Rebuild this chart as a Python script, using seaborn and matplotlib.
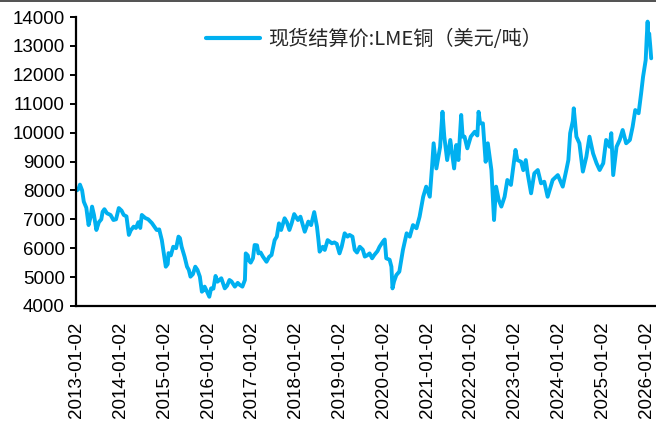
import matplotlib
matplotlib.use("Agg")
import matplotlib.pyplot as plt
import matplotlib.dates as mdates
from matplotlib.lines import Line2D
import pandas as pd
import seaborn as sns

# LME copper cash settlement price, USD per tonne
dates = [
    "2013-01-02", "2013-01-16", "2013-01-28", "2013-02-15", "2013-03-01", "2013-03-22",
    "2013-04-10", "2013-04-25", "2013-05-09", "2013-05-25", "2013-06-14", "2013-07-05",
    "2013-07-25", "2013-08-05", "2013-08-20", "2013-09-10", "2013-10-10", "2013-11-03",
    "2013-11-25", "2013-12-18", "2014-01-10", "2014-01-28", "2014-02-20", "2014-03-12",
    "2014-03-28", "2014-04-21", "2014-05-10", "2014-05-30", "2014-06-15", "2014-06-28",
    "2014-07-27", "2014-08-20", "2014-09-20", "2014-10-10", "2014-10-30", "2014-11-20",
    "2014-12-12", "2015-01-14", "2015-01-30", "2015-02-06", "2015-02-25", "2015-03-17",
    "2015-04-10", "2015-04-30", "2015-05-12", "2015-05-26", "2015-06-20", "2015-07-10",
    "2015-07-25", "2015-08-08", "2015-08-28", "2015-09-17", "2015-10-05", "2015-10-25",
    "2015-11-11", "2015-11-25", "2015-12-04", "2015-12-18", "2016-01-12", "2016-01-27",
    "2016-02-15", "2016-03-04", "2016-03-20", "2016-04-21", "2016-05-20", "2016-06-08",
    "2016-06-28", "2016-07-15", "2016-08-12", "2016-09-05", "2016-09-22", "2016-10-14",
    "2016-11-04", "2016-11-11", "2016-11-28", "2016-12-05", "2016-12-22", "2017-01-10",
    "2017-01-24", "2017-02-13", "2017-02-25", "2017-03-15", "2017-04-03", "2017-05-03",
    "2017-05-25", "2017-06-14", "2017-07-10", "2017-07-28", "2017-08-15", "2017-09-02",
    "2017-10-01", "2017-10-20", "2017-11-10", "2017-11-28", "2017-12-20", "2018-01-20",
    "2018-02-10", "2018-03-18", "2018-04-17", "2018-05-10", "2018-06-05", "2018-06-28",
    "2018-07-10", "2018-07-20", "2018-08-15", "2018-09-01", "2018-09-25", "2018-10-30",
    "2018-11-20", "2018-12-10", "2019-01-02", "2019-01-20", "2019-02-14", "2019-03-10",
    "2019-03-27", "2019-04-20", "2019-05-09", "2019-05-28", "2019-06-20", "2019-07-15",
    "2019-08-01", "2019-08-20", "2019-09-10", "2019-10-01", "2019-10-19", "2019-11-15",
    "2019-12-02", "2019-12-30", "2020-01-14", "2020-01-27", "2020-02-24", "2020-03-10",
    "2020-03-19", "2020-04-01", "2020-04-20", "2020-05-15", "2020-06-14", "2020-07-15",
    "2020-08-10", "2020-09-06", "2020-10-05", "2020-10-31", "2020-11-30", "2020-12-25",
    "2021-01-24", "2021-02-12", "2021-02-25", "2021-03-20", "2021-04-20", "2021-05-10",
    "2021-05-25", "2021-06-18", "2021-07-14", "2021-08-15", "2021-09-02", "2021-09-20",
    "2021-10-13", "2021-10-25", "2021-11-10", "2021-12-03", "2022-01-01", "2022-02-03",
    "2022-02-25", "2022-03-07", "2022-03-20", "2022-04-12", "2022-05-05", "2022-05-23",
    "2022-06-22", "2022-07-14", "2022-07-31", "2022-08-22", "2022-09-13", "2022-10-10",
    "2022-11-02", "2022-12-02", "2023-01-09", "2023-01-25", "2023-02-25", "2023-03-15",
    "2023-04-05", "2023-04-20", "2023-05-19", "2023-06-15", "2023-07-14", "2023-08-10",
    "2023-09-06", "2023-10-04", "2023-11-15", "2023-12-28", "2024-01-25", "2024-02-07",
    "2024-03-08", "2024-03-25", "2024-04-09", "2024-05-01", "2024-05-09", "2024-05-31",
    "2024-06-25", "2024-07-24", "2024-08-22", "2024-09-17", "2024-10-17", "2024-11-15",
    "2024-12-11", "2025-01-10", "2025-02-03", "2025-03-04", "2025-03-18", "2025-04-03",
    "2025-05-01", "2025-05-27", "2025-06-21", "2025-07-20", "2025-08-20", "2025-09-12",
    "2025-10-04", "2025-11-01", "2025-11-22", "2025-12-08", "2025-12-30", "2026-01-08",
    "2026-01-15", "2026-01-22", "2026-01-28", "2026-02-06", "2026-02-14",
]
prices = [
    8000, 8050, 8200, 8000, 7610, 7400,
    6800, 7050, 7440, 7150, 6630, 6900,
    7000, 7260, 7350, 7210, 7150, 6975,
    7000, 7390, 7300, 7150, 7100, 6460,
    6620, 6745, 6700, 6900, 6700, 7150,
    7045, 7000, 6870, 6750, 6630, 6650,
    6280, 5360, 5450, 5830, 5750, 6050,
    6000, 6400, 6350, 6050, 5700, 5360,
    5250, 5015, 5100, 5360, 5250, 5015,
    4495, 4550, 4670, 4550, 4320, 4610,
    4600, 5040, 4840, 4960, 4610, 4700,
    4900, 4850, 4670, 4800, 4730, 4670,
    4900, 5820, 5750, 5590, 5500, 5650,
    6110, 6100, 5820, 5850, 5710, 5530,
    5700, 5765, 6280, 6400, 6860, 6630,
    7035, 6900, 6630, 6850, 7180, 6975,
    7090, 6570, 6920, 6800, 7250, 6745,
    6300, 5880, 6050, 5940, 6280, 6170,
    6200, 6150, 5820, 6050, 6515, 6400,
    6460, 6400, 5940, 5850, 6050, 5950,
    5710, 5750, 5820, 5650, 5765, 5900,
    6050, 6225, 6300, 5650, 5600, 5360,
    4610, 4850, 5070, 5190, 5940, 6515,
    6400, 6800, 6690, 7090, 7780, 8130,
    7780, 8820, 9630, 8760, 9500, 10720,
    9860, 9050, 9745, 8760, 9570, 9050,
    10610, 9860, 9860, 9455, 9860, 10030,
    9900, 10720, 10320, 10320, 8990, 9630,
    8705, 6975, 8130, 7670, 7440, 7780,
    8360, 8190, 9400, 9050, 8990, 8700,
    9050, 8590, 7900, 8590, 8705, 8245,
    8300, 7780, 8360, 8530, 8250, 8130,
    8705, 9050, 9980, 10400, 10840, 9860,
    9630, 8650, 9165, 9860, 9280, 8940,
    8705, 8940, 9745, 9510, 9980, 8530,
    9510, 9745, 10090, 9630, 9745, 10200,
    10780, 10670, 11360, 11930, 12510, 13320,
    13840, 13090, 13430, 13000, 12570,
]

series_label = "现货结算价:LME铜（美元/吨）"
y_ticks = list(range(4000, 14001, 1000))
x_ticks = [f"{y}-01-02" for y in range(2013, 2027)]

df = pd.DataFrame({"date": pd.to_datetime(dates), "price": prices})

sns.set_theme(style="ticks")
plt.rcParams["font.family"] = ["Liberation Sans", "DejaVu Sans"]

fig = plt.figure(figsize=(6.56, 4.32), dpi=100)
ax = fig.add_axes([76 / 656, (432 - 306) / 432, 580 / 656, (306 - 17) / 432])

line_color = "#00B0F0"
sns.lineplot(data=df, x="date", y="price", ax=ax, color=line_color,
             linewidth=2.8, label=series_label)

ax.set_xlim(pd.Timestamp("2012-12-26"), pd.Timestamp("2026-03-26"))
ax.set_ylim(4000, 14000)
ax.set_yticks(y_ticks)
ax.set_xticks(pd.to_datetime(x_ticks))
ax.xaxis.set_major_formatter(mdates.DateFormatter("%Y-%m-%d"))
ax.set_xlabel("")
ax.set_ylabel("")

for side in ("top", "right"):
    ax.spines[side].set_visible(False)
for side in ("left", "bottom"):
    ax.spines[side].set_color("black")
    ax.spines[side].set_linewidth(1.6)

ax.tick_params(axis="y", direction="out", length=4.5, width=1.4, pad=3.5,
               labelsize=13.5, colors="black")
ax.tick_params(axis="x", length=0, pad=11, labelsize=13.5, labelrotation=90,
               colors="black")

leg = ax.legend(loc="center left", bbox_to_anchor=(196 / 656, 1 - 40 / 432),
                bbox_transform=fig.transFigure, frameon=False, borderpad=0,
                handlelength=2.7, handletextpad=0.4,
                prop={"family": ["Noto Sans CJK SC", "DejaVu Sans"], "size": 14.5})
for h in leg.get_lines():
    h.set_linewidth(3.0)

fig.add_artist(Line2D([0, 1], [1 - 0.8 / 432, 1 - 0.8 / 432],
                      transform=fig.transFigure, color="#333333", linewidth=1.2))

fig.savefig("out.png", dpi=100)
